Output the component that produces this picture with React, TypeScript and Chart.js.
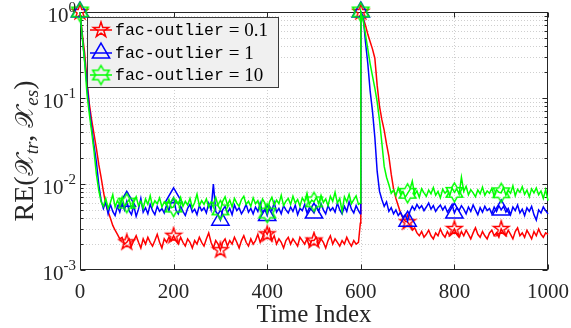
import React, { useEffect, useRef } from 'react';
import { Chart, registerables } from 'chart.js';

Chart.register(...registerables);

// ---- data ----
const timeIndex = [
  0, 5, 10, 15, 20, 25, 30, 35, 40, 45, 50, 55, 60, 65, 70, 75, 80, 85, 90, 95,
  100, 105, 110, 115, 120, 125, 130, 135, 140, 145, 150, 155, 160, 165, 170, 175, 180, 185, 190, 195,
  200, 205, 210, 215, 220, 225, 230, 235, 240, 245, 250, 255, 260, 265, 270, 275, 280, 285, 290, 295,
  300, 305, 310, 315, 320, 325, 330, 335, 340, 345, 350, 355, 360, 365, 370, 375, 380, 385, 390, 395,
  400, 405, 410, 415, 420, 425, 430, 435, 440, 445, 450, 455, 460, 465, 470, 475, 480, 485, 490, 495,
  500, 505, 510, 515, 520, 525, 530, 535, 540, 545, 550, 555, 560, 565, 570, 575, 580, 585, 590, 595,
  599,
  600, 605, 610, 615, 620, 625, 630, 635, 640, 645, 650, 655, 660, 665, 670, 675, 680, 685, 690, 695,
  700, 705, 710, 715, 720, 725, 730, 735, 740, 745, 750, 755, 760, 765, 770, 775, 780, 785, 790, 795,
  800, 805, 810, 815, 820, 825, 830, 835, 840, 845, 850, 855, 860, 865, 870, 875, 880, 885, 890, 895,
  900, 905, 910, 915, 920, 925, 930, 935, 940, 945, 950, 955, 960, 965, 970, 975, 980, 985, 990, 995, 1000,
];

const redValues = [
  1.0, 0.55, 0.33, 0.16, 0.085, 0.055, 0.038, 0.026, 0.017, 0.012, 0.0082, 0.0058, 0.0048, 0.0040, 0.0033, 0.0029, 0.0026, 0.0023, 0.0024, 0.0020,
  0.0021, 0.0023, 0.0019, 0.0022, 0.0025, 0.0021, 0.0018, 0.0023, 0.0020, 0.0024, 0.0021, 0.0019, 0.0022, 0.0026, 0.0021, 0.0018, 0.0023, 0.0021, 0.0024, 0.0022,
  0.0025, 0.0022, 0.0020, 0.0024, 0.0021, 0.0019, 0.0023, 0.0021, 0.0018, 0.0022, 0.0020, 0.0024, 0.0021, 0.0019, 0.0023, 0.0027, 0.0021, 0.0018, 0.0022, 0.0020,
  0.0017, 0.0021, 0.0023, 0.0019, 0.0022, 0.0020, 0.0024, 0.0021, 0.0018, 0.0022, 0.0025, 0.0021, 0.0019, 0.0023, 0.0020, 0.0022, 0.0026, 0.0021, 0.0024, 0.0029,
  0.0026, 0.0030, 0.0022, 0.0025, 0.0020, 0.0023, 0.0021, 0.0018, 0.0022, 0.0024, 0.0020, 0.0023, 0.0021, 0.0019, 0.0024, 0.0022, 0.0020, 0.0023, 0.0019, 0.0022,
  0.0022, 0.0024, 0.0020, 0.0023, 0.0021, 0.0018, 0.0022, 0.0025, 0.0020, 0.0023, 0.0021, 0.0019, 0.0022, 0.0020, 0.0024, 0.0021, 0.0019, 0.0022, 0.0020, 0.0021,
  0.0035,
  1.0, 0.85, 0.7, 0.55, 0.45, 0.37, 0.29, 0.14, 0.08, 0.056, 0.042, 0.029, 0.021, 0.013, 0.0088, 0.0068, 0.0056, 0.0046, 0.0040, 0.0037,
  0.0036, 0.0033, 0.0029, 0.0031, 0.0027, 0.0025, 0.0028, 0.0024, 0.0026, 0.0029, 0.0025, 0.0023, 0.0027, 0.0025, 0.0030, 0.0026, 0.0024, 0.0028, 0.0025, 0.0027,
  0.0030, 0.0026, 0.0024, 0.0028, 0.0025, 0.0029, 0.0026, 0.0023, 0.0027, 0.0031, 0.0026, 0.0024, 0.0028, 0.0025, 0.0023, 0.0027, 0.0029, 0.0025, 0.0027, 0.0024,
  0.0030, 0.0027, 0.0025, 0.0029, 0.0026, 0.0023, 0.0028, 0.0031, 0.0025, 0.0027, 0.0024, 0.0029, 0.0026, 0.0023, 0.0028, 0.0025, 0.0030, 0.0026, 0.0024, 0.0027, 0.0026,
];

const blueValues = [
  1.0, 0.5, 0.27, 0.14, 0.075, 0.045, 0.028, 0.018, 0.010, 0.0065, 0.0052, 0.0062, 0.0045, 0.0058, 0.0048, 0.0043, 0.0055, 0.0047, 0.0060, 0.0050,
  0.0063, 0.0049, 0.0044, 0.0056, 0.0042, 0.0051, 0.0068, 0.0047, 0.0053, 0.0045, 0.0058, 0.0049, 0.0044, 0.0055, 0.0048, 0.0052, 0.0046, 0.0057, 0.0049, 0.0062,
  0.0069, 0.0050, 0.0045, 0.0055, 0.0048, 0.0043, 0.0052, 0.0058, 0.0047, 0.0051, 0.0044, 0.0056, 0.0049, 0.0053, 0.0046, 0.0060, 0.0050, 0.0100, 0.0048, 0.0044,
  0.0038, 0.0050, 0.0055, 0.0046, 0.0052, 0.0044, 0.0057, 0.0049, 0.0053, 0.0045, 0.0050, 0.0058, 0.0047, 0.0052, 0.0045, 0.0054, 0.0048, 0.0060, 0.0046, 0.0051,
  0.0043, 0.0055, 0.0049, 0.0061, 0.0047, 0.0052, 0.0045, 0.0056, 0.0050, 0.0046, 0.0054, 0.0048, 0.0057, 0.0044, 0.0052, 0.0049, 0.0058, 0.0046, 0.0053, 0.0050,
  0.0046, 0.0055, 0.0048, 0.0059, 0.0050, 0.0045, 0.0056, 0.0049, 0.0053, 0.0047, 0.0060, 0.0050, 0.0045, 0.0055, 0.0048, 0.0062, 0.0051, 0.0046, 0.0056, 0.0049,
  0.0045,
  1.0, 0.9, 0.45, 0.25, 0.12, 0.07, 0.035, 0.014, 0.0082, 0.0066, 0.0055, 0.0062, 0.0048, 0.0053, 0.0045, 0.0050, 0.0043, 0.0047, 0.0041, 0.0044,
  0.0037, 0.0048, 0.0055, 0.0050, 0.0058, 0.0052, 0.0056, 0.0049, 0.0054, 0.0060, 0.0051, 0.0056, 0.0048, 0.0053, 0.0057, 0.0050, 0.0055, 0.0047, 0.0052, 0.0058,
  0.0046, 0.0053, 0.0049, 0.0056, 0.0051, 0.0045, 0.0054, 0.0048, 0.0057, 0.0050, 0.0044, 0.0053, 0.0047, 0.0055, 0.0049, 0.0052, 0.0045, 0.0054, 0.0048, 0.0056,
  0.0050, 0.0055, 0.0047, 0.0052, 0.0044, 0.0054, 0.0049, 0.0057, 0.0046, 0.0051, 0.0043, 0.0053, 0.0048, 0.0055, 0.0044, 0.0038, 0.0050, 0.0046, 0.0054, 0.0049, 0.0045,
];

const greenValues = [
  1.0, 0.5, 0.26, 0.11, 0.065, 0.04, 0.024, 0.013, 0.0085, 0.0062, 0.0055, 0.0068, 0.0052, 0.0061, 0.0075, 0.0054, 0.0064, 0.0057, 0.0070, 0.0055,
  0.0060, 0.0066, 0.0053, 0.0062, 0.0071, 0.0056, 0.0063, 0.0052, 0.0067, 0.0058, 0.0073, 0.0055, 0.0064, 0.0059, 0.0069, 0.0054, 0.0062, 0.0057, 0.0066, 0.0053,
  0.0054, 0.0065, 0.0058, 0.0070, 0.0055, 0.0063, 0.0057, 0.0068, 0.0053, 0.0061, 0.0076, 0.0056, 0.0064, 0.0058, 0.0067, 0.0054, 0.0062, 0.0059, 0.0070, 0.0056,
  0.0050, 0.0063, 0.0071, 0.0057, 0.0065, 0.0054, 0.0068, 0.0060, 0.0055, 0.0066, 0.0072, 0.0058, 0.0063, 0.0055, 0.0069, 0.0059, 0.0064, 0.0053, 0.0067, 0.0060,
  0.0046, 0.0062, 0.0070, 0.0057, 0.0065, 0.0059, 0.0074, 0.0056, 0.0063, 0.0068, 0.0058, 0.0072, 0.0060, 0.0066, 0.0055, 0.0069, 0.0062, 0.0078, 0.0058, 0.0065,
  0.0062, 0.0070, 0.0059, 0.0074, 0.0061, 0.0067, 0.0056, 0.0072, 0.0063, 0.0080, 0.0060, 0.0068, 0.0048, 0.0071, 0.0062, 0.0076, 0.0059, 0.0066, 0.0073, 0.0058,
  0.0060,
  1.0, 0.8, 0.55, 0.37, 0.25, 0.18, 0.13, 0.09, 0.055, 0.03, 0.016, 0.012, 0.0098, 0.0078, 0.0085, 0.0073, 0.0090, 0.0076, 0.0082, 0.0070,
  0.0078, 0.0086, 0.0108, 0.0075, 0.0083, 0.0070, 0.0088, 0.0079, 0.0072, 0.0085, 0.0077, 0.0091, 0.0074, 0.0082, 0.0069, 0.0087, 0.0078, 0.0084, 0.0073, 0.0090,
  0.0080, 0.0088, 0.0076, 0.0120, 0.0082, 0.0094, 0.0075, 0.0086, 0.0079, 0.0071, 0.0085, 0.0077, 0.0092, 0.0074, 0.0083, 0.0078, 0.0089, 0.0072, 0.0086, 0.0080,
  0.0079, 0.0091, 0.0074, 0.0084, 0.0078, 0.0095, 0.0073, 0.0087, 0.0080, 0.0093, 0.0076, 0.0085, 0.0071, 0.0088, 0.0079, 0.0090, 0.0075, 0.0083, 0.0068, 0.0086, 0.0064,
];

const xTicks = [0, 200, 400, 600, 800, 1000];
const yDecadeExponents = [0, -1, -2, -3];
const legendValues = ['0.1', '1', '10'];
const legendPrefix = 'fac-outlier';
const xTitle = 'Time Index';

// ---- styles ----
const SERIF = '"Liberation Serif", "DejaVu Serif", serif';
const MONO = '"Liberation Mono", "DejaVu Sans Mono", monospace';
const MATH = '"DejaVu Serif", "DejaVu Sans", serif';
const TEXT = '#262626';
const RED = '#ff0000';
const BLUE = '#0000ff';
const GREEN = '#00ff00';

function makeStarImage(color: string, n: number, R: number, ratio: number) {
  const size = Math.ceil(2 * R + 4);
  const c = document.createElement('canvas');
  c.width = size;
  c.height = size;
  const g = c.getContext('2d')!;
  g.strokeStyle = color;
  g.lineWidth = 1.5;
  g.beginPath();
  for (let i = 0; i < 2 * n; i++) {
    const r = i % 2 === 0 ? R : R * ratio;
    const a = -Math.PI / 2 + (i * Math.PI) / n;
    const px = size / 2 + r * Math.cos(a);
    const py = size / 2 + r * Math.sin(a);
    if (i === 0) g.moveTo(px, py);
    else g.lineTo(px, py);
  }
  g.closePath();
  g.stroke();
  return c;
}

function drawTriangle(ctx: CanvasRenderingContext2D, x: number, y: number, r: number) {
  ctx.beginPath();
  for (let i = 0; i < 3; i++) {
    const a = (i * 2 * Math.PI) / 3;
    const px = x + Math.sin(a) * r;
    const py = y - Math.cos(a) * r;
    if (i === 0) ctx.moveTo(px, py);
    else ctx.lineTo(px, py);
  }
  ctx.closePath();
  ctx.stroke();
}

export default function App() {
  const ref = useRef<HTMLCanvasElement>(null);

  useEffect(() => {
    const canvas = ref.current!;
    const starImg = makeStarImage(RED, 5, 8, 0.382);
    const hexImg = makeStarImage(GREEN, 6, 9.5, 0.577);
    const isMarker = (i: number) => timeIndex[i] % 100 === 0 && timeIndex[i] < 1000;
    const pts = (vals: number[]) => timeIndex.map((x, i) => ({ x, y: vals[i] }));

    const decor = {
      id: 'decor',
      beforeDatasetsDraw(chart: any) {
        const { ctx, chartArea: a, scales } = chart;
        const xs = scales.x;
        const ys = scales.y;
        ctx.save();
        // grid
        ctx.strokeStyle = '#cfcfcf';
        ctx.lineWidth = 1;
        ctx.setLineDash([1, 2]);
        for (const v of xTicks) {
          const px = Math.round(xs.getPixelForValue(v)) + 0.5;
          if (v === 0 || v === 1000) continue;
          ctx.beginPath();
          ctx.moveTo(px, a.top);
          ctx.lineTo(px, a.bottom);
          ctx.stroke();
        }
        for (let e = -3; e < 0; e++) {
          for (let m = 1; m <= 9; m++) {
            const v = m * Math.pow(10, e);
            if (e === -3 && m === 1) continue;
            const py = Math.round(ys.getPixelForValue(v)) + 0.5;
            ctx.beginPath();
            ctx.moveTo(a.left, py);
            ctx.lineTo(a.right, py);
            ctx.stroke();
          }
        }
        ctx.setLineDash([]);
        // frame
        ctx.strokeStyle = TEXT;
        ctx.lineWidth = 1;
        const L = Math.round(a.left) + 0.5;
        const R = Math.round(a.right) - 0.5;
        const T = Math.round(a.top) + 0.5;
        const B = Math.round(a.bottom) - 0.5;
        ctx.strokeRect(L, T, R - L, B - T);
        // x ticks (inward, bottom and top)
        ctx.beginPath();
        for (const v of xTicks) {
          const px = Math.round(xs.getPixelForValue(v)) + 0.5;
          ctx.moveTo(px, B);
          ctx.lineTo(px, B - 5);
          ctx.moveTo(px, T);
          ctx.lineTo(px, T + 5);
        }
        // y ticks (major + minor), left and right
        for (let e = -3; e <= 0; e++) {
          for (let m = 1; m <= 9; m++) {
            if (e === 0 && m > 1) break;
            const v = m * Math.pow(10, e);
            const py = Math.round(ys.getPixelForValue(v)) + 0.5;
            const len = m === 1 ? 5 : 3;
            ctx.moveTo(L, py);
            ctx.lineTo(L + len, py);
            ctx.moveTo(R, py);
            ctx.lineTo(R - len, py);
          }
        }
        ctx.stroke();
        ctx.restore();
      },
      afterDraw(chart: any) {
        const { ctx, chartArea: a, scales } = chart;
        const xs = scales.x;
        const ys = scales.y;
        ctx.save();
        ctx.fillStyle = TEXT;
        // x tick labels
        ctx.font = `21px ${SERIF}`;
        ctx.textAlign = 'center';
        ctx.textBaseline = 'alphabetic';
        for (const v of xTicks) {
          ctx.fillText(String(v), xs.getPixelForValue(v), a.bottom + 28);
        }
        // y tick labels 10^e
        for (const e of yDecadeExponents) {
          const py = ys.getPixelForValue(Math.pow(10, e));
          const expStr = String(e);
          ctx.font = `15px ${SERIF}`;
          const we = ctx.measureText(expStr).width;
          ctx.font = `21px ${SERIF}`;
          const wb = ctx.measureText('10').width;
          const right = a.left - 4;
          ctx.textAlign = 'left';
          ctx.fillText('10', right - we - wb, py + 10);
          ctx.font = `15px ${SERIF}`;
          ctx.fillText(expStr, right - we, py + 0);
        }
        // x title
        ctx.font = `25px ${SERIF}`;
        ctx.textAlign = 'center';
        ctx.fillText(xTitle, (a.left + a.right) / 2, 322);
        // y title: RE(X_tr, X_es)
        const parts = [
          { t: 'RE(', f: `28px ${SERIF}`, dy: 0 },
          { t: '𝒳', f: `25px ${MATH}`, dy: 0 },
          { t: 'tr', f: `italic 19px ${SERIF}`, dy: 5 },
          { t: ', ', f: `28px ${SERIF}`, dy: 0 },
          { t: '𝒳', f: `25px ${MATH}`, dy: 0 },
          { t: 'es', f: `italic 19px ${SERIF}`, dy: 5 },
          { t: ')', f: `28px ${SERIF}`, dy: 0 },
        ];
        let total = 0;
        const widths = parts.map((p) => {
          ctx.font = p.f;
          const w = ctx.measureText(p.t).width;
          total += w;
          return w;
        });
        ctx.save();
        ctx.translate(33, 151);
        ctx.rotate(-Math.PI / 2);
        ctx.textAlign = 'left';
        let cx = -total / 2;
        parts.forEach((p, i) => {
          ctx.font = p.f;
          ctx.fillText(p.t, cx, p.dy);
          cx += widths[i];
        });
        ctx.restore();

        // legend
        const lx = 87, ly = 17, lw = 192, lh = 71;
        ctx.fillStyle = '#f0f0f0';
        ctx.fillRect(lx, ly, lw, lh);
        ctx.strokeStyle = '#3a3a3a';
        ctx.lineWidth = 1;
        ctx.strokeRect(lx + 0.5, ly + 0.5, lw - 1, lh - 1);
        const rows = [30, 53, 75];
        const colors = [RED, BLUE, GREEN];
        rows.forEach((ry, i) => {
          ctx.strokeStyle = colors[i];
          ctx.lineWidth = 1.5;
          ctx.beginPath();
          ctx.moveTo(90, ry);
          ctx.lineTo(112, ry);
          ctx.stroke();
          const mx = 101;
          if (i === 0) ctx.drawImage(starImg, mx - starImg.width / 2, ry - starImg.height / 2);
          else if (i === 1) drawTriangle(ctx, mx, ry, 10);
          else ctx.drawImage(hexImg, mx - hexImg.width / 2, ry - hexImg.height / 2);
          ctx.fillStyle = '#000';
          ctx.textAlign = 'left';
          ctx.font = `16.5px ${MONO}`;
          ctx.fillText(legendPrefix, 115, ry + 5);
          const wp = ctx.measureText(legendPrefix).width;
          ctx.font = `19px ${SERIF}`;
          ctx.fillText(' = ' + legendValues[i], 115 + wp, ry + 6);
        });
        ctx.restore();
      },
    };

    const chart = new Chart(canvas, {
      type: 'line',
      data: {
        datasets: [
          {
            label: `${legendPrefix} = ${legendValues[0]}`,
            data: pts(redValues),
            borderColor: RED,
            backgroundColor: RED,
            borderWidth: 1.5,
            pointStyle: starImg as any,
            pointRadius: (c: any) => (isMarker(c.dataIndex) ? 8 : 0),
            order: 3,
            clip: false as any,
          },
          {
            label: `${legendPrefix} = ${legendValues[1]}`,
            data: pts(blueValues),
            borderColor: BLUE,
            backgroundColor: BLUE,
            borderWidth: 1.5,
            pointStyle: 'triangle',
            pointRadius: (c: any) => (isMarker(c.dataIndex) ? 10 : 0),
            pointBorderColor: BLUE,
            pointBackgroundColor: 'rgba(0,0,0,0)',
            pointBorderWidth: 1.5,
            order: 2,
            clip: false as any,
          },
          {
            label: `${legendPrefix} = ${legendValues[2]}`,
            data: pts(greenValues),
            borderColor: GREEN,
            backgroundColor: GREEN,
            borderWidth: 1.5,
            pointStyle: hexImg as any,
            pointRadius: (c: any) => (isMarker(c.dataIndex) ? 9 : 0),
            order: 1,
            clip: false as any,
          },
        ],
      },
      options: {
        responsive: false,
        animation: false,
        events: [],
        layout: { padding: { left: 0, top: 12, right: 23, bottom: 0 } },
        plugins: { legend: { display: false }, tooltip: { enabled: false } },
        elements: { line: { tension: 0 } },
        scales: {
          x: {
            type: 'linear',
            min: 0,
            max: 1000,
            grid: { display: false },
            border: { display: false },
            ticks: { display: false },
            afterFit: (s: any) => {
              s.height = 58;
            },
          },
          y: {
            type: 'logarithmic',
            min: 0.001,
            max: 1,
            grid: { display: false },
            border: { display: false },
            ticks: { display: false },
            afterFit: (s: any) => {
              s.width = 80;
            },
          },
        },
      },
      plugins: [decor],
    });
    return () => chart.destroy();
  }, []);

  return (
    <div style={{ position: 'fixed', left: 0, top: 0, width: 571, height: 328, background: '#fff' }}>
      <canvas ref={ref} width={571} height={328} style={{ display: 'block', width: 571, height: 328 }} />
    </div>
  );
}
